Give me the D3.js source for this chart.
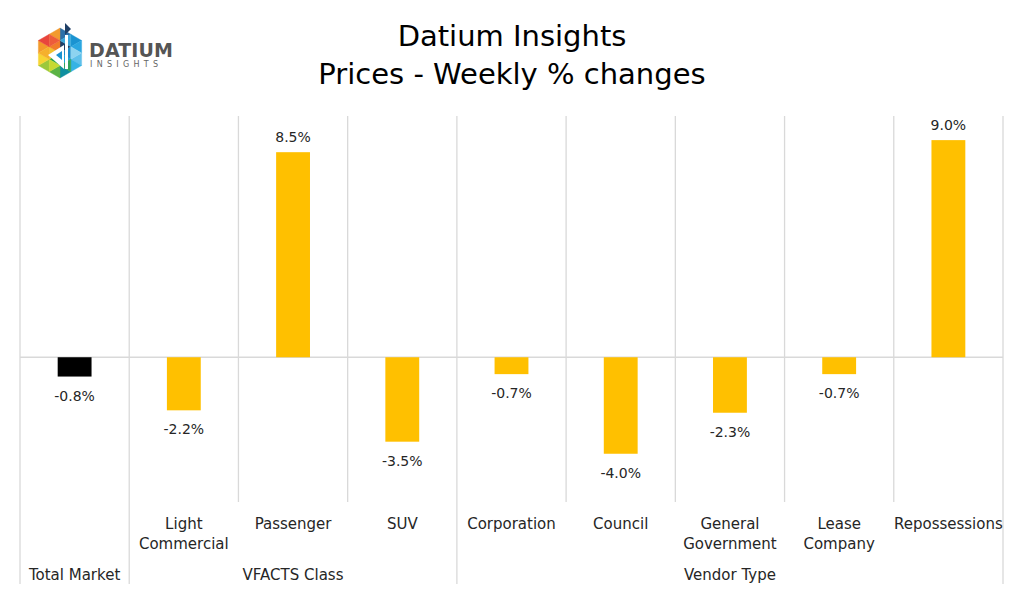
<!DOCTYPE html>
<html>
<head>
<meta charset="utf-8">
<script src="https://cdn.jsdelivr.net/npm/d3@7"></script>
<style>
	body { margin: 0; background: #fff; }
	text { font-family: "DejaVu Sans", sans-serif; fill: #262626; }
</style>
</head>
<body>
<div id="chart"></div>
<script>
(function(){
	var width = 1024;
	var height = 594;

	// data
	var categories = ["Total Market", "Light\nCommercial", "Passenger", "SUV", "Corporation", "Council", "General\nGovernment", "Lease\nCompany", "Repossessions"];
	var values = [-0.8, -2.2, 8.5, -3.5, -0.7, -4.0, -2.3, -0.7, 9.0];
	var groupNames = ["", "VFACTS Class", "VFACTS Class", "VFACTS Class", "Vendor Type", "Vendor Type", "Vendor Type", "Vendor Type", "Vendor Type"];
	var titleLines = ["Datium Insights", "Prices - Weekly % changes"];

	var left = 20, right = 1003, top = 116, bottom = 502, groupBottom = 584;

	var svg = d3.select('#chart').append('svg')
		.attr('width', width)
		.attr('height', height);

	var x = d3.scaleBand()
		.domain(d3.range(categories.length))
		.range([left, right])
		.padding(0);

	var y = d3.scaleLinear()
		.domain([-6, 10])
		.range([bottom, top]);

	// title
	svg.selectAll('.title')
		.data(titleLines)
		.enter()
		.append('text')
		.attr('class', 'title')
		.attr('x', 512)
		.attr('y', function(d, i){ return 46 + i * 38; })
		.attr('text-anchor', 'middle')
		.style('font-size', '29px')
		.style('fill', '#000')
		.text(function(d){ return d; });

	// logo (rough)
	var logo = svg.append('g').attr('transform', 'translate(60,53)');
	var R = 25;
	var sectorColors = [
		["#1f3f66", "#2b6fa8", "#1a93d1", "#3aa8dc"],
		["#1b8bc9", "#2aa6e0", "#5fc0ea", "#8dd3f0"],
		["#1aa3d9", "#35b3e4", "#0f8fa0", "#2fa35a"],
		["#27a24a", "#5cb345", "#9cc83c", "#c7d930"],
		["#f2c12e", "#f7d433", "#f39a2a", "#f5b02d"],
		["#f07c2a", "#e8453c", "#f29a2e", "#ed5c3a"]
	];
	var hexPt = function(k){
		var a = -Math.PI / 2 + k * Math.PI / 3;
		return [R * Math.cos(a), R * Math.sin(a)];
	};
	var mid = function(p, q){ return [(p[0] + q[0]) / 2, (p[1] + q[1]) / 2]; };
	for (var s = 0; s < 6; s++) {
		var a = hexPt(s), b = hexPt(s + 1), o = [0, 0];
		var ma = mid(o, a), mb = mid(o, b), mab = mid(a, b);
		var tris = [[o, ma, mb], [ma, a, mab], [mb, mab, b], [ma, mab, mb]];
		tris.forEach(function(t, j){
			logo.append('path')
				.attr('d', 'M' + t.join('L') + 'Z')
				.attr('fill', sectorColors[s][j])
				.attr('stroke', sectorColors[s][j])
				.attr('stroke-width', 0.4);
		});
	}
	logo.append('path')
		.attr('d', 'M-12,2L4,-8L4,16Z')
		.attr('fill', '#fff');
	logo.append('path')
		.attr('d', 'M-4,2L2,-2L2,7Z')
		.attr('fill', '#1a93d1');
	logo.append('path')
		.attr('d', 'M5,-18L5,-30L11,-24Z')
		.attr('fill', '#1f3f66');
	logo.append('rect')
		.attr('x', 5).attr('y', -18).attr('width', 3).attr('height', 34)
		.attr('fill', '#fff');

	svg.append('text')
		.attr('x', 89).attr('y', 57)
		.style('font-size', '19px')
		.style('font-weight', 'bold')
		.style('fill', '#555')
		.attr('textLength', 84)
		.text('DATIUM');
	svg.append('text')
		.attr('x', 90).attr('y', 67)
		.style('font-size', '8px')
		.style('fill', '#666')
		.style('letter-spacing', '4.3px')
		.text('INSIGHTS');

	// grid: vertical separators
	var edges = d3.range(categories.length + 1).map(function(i){
		return i < categories.length ? x(i) : x.range()[1];
	});
	svg.selectAll('.vline')
		.data(edges)
		.enter()
		.append('line')
		.attr('class', 'vline')
		.attr('x1', function(d){ return d; })
		.attr('x2', function(d){ return d; })
		.attr('y1', top)
		.attr('y2', function(d, i){
			if (i === 0 || i === categories.length) return groupBottom;
			return groupNames[i] !== groupNames[i - 1] ? groupBottom : bottom;
		})
		.attr('stroke', '#d9d9d9')
		.attr('stroke-width', 1.3);

	// zero line
	svg.append('line')
		.attr('x1', left).attr('x2', right)
		.attr('y1', y(0)).attr('y2', y(0))
		.attr('stroke', '#d9d9d9')
		.attr('stroke-width', 1.3);

	var barW = x.bandwidth() * 0.31;

	svg.selectAll('.bar')
		.data(values)
		.enter()
		.append('rect')
		.attr('class', 'bar')
		.attr('x', function(d, i){ return x(i) + (x.bandwidth() - barW) / 2; })
		.attr('y', function(d){ return y(Math.max(0, d)); })
		.attr('width', barW)
		.attr('height', function(d){ return Math.abs(y(d) - y(0)); })
		.attr('fill', function(d, i){ return i === 0 ? '#000' : '#ffc000'; });

	svg.selectAll('.val')
		.data(values)
		.enter()
		.append('text')
		.attr('class', 'val')
		.attr('x', function(d, i){ return x(i) + x.bandwidth() / 2; })
		.attr('y', function(d){ return d >= 0 ? y(d) - 10 : y(d) + 24; })
		.attr('text-anchor', 'middle')
		.style('font-size', '14px')
		.text(function(d){ return d.toFixed(1) + '%'; });

	// category labels
	svg.selectAll('.cat')
		.data(categories)
		.enter()
		.filter(function(d, i){ return i > 0; })
		.append('text')
		.attr('class', 'cat')
		.attr('x', function(d){ return x(categories.indexOf(d)) + x.bandwidth() / 2; })
		.attr('y', 529)
		.attr('text-anchor', 'middle')
		.style('font-size', '15px')
		.selectAll('tspan')
		.data(function(d){ return d.split('\n'); })
		.enter()
		.append('tspan')
		.attr('x', function(){ var p = this.parentNode; return p.getAttribute('x'); })
		.attr('dy', function(d, i){ return i === 0 ? 0 : 20; })
		.text(function(d){ return d; });

	// group labels
	var groups = [];
	groupNames.forEach(function(g, i){
		var name = i === 0 ? categories[0] : g;
		var last = groups[groups.length - 1];
		if (last && last.name === name) last.end = i;
		else groups.push({name: name, start: i, end: i});
	});
	svg.selectAll('.grp')
		.data(groups)
		.enter()
		.append('text')
		.attr('class', 'grp')
		.attr('x', function(d){ return (x(d.start) + x(d.end) + x.bandwidth()) / 2; })
		.attr('y', 580)
		.attr('text-anchor', 'middle')
		.style('font-size', '15px')
		.text(function(d){ return d.name; });
})();
</script>
</body>
</html>
